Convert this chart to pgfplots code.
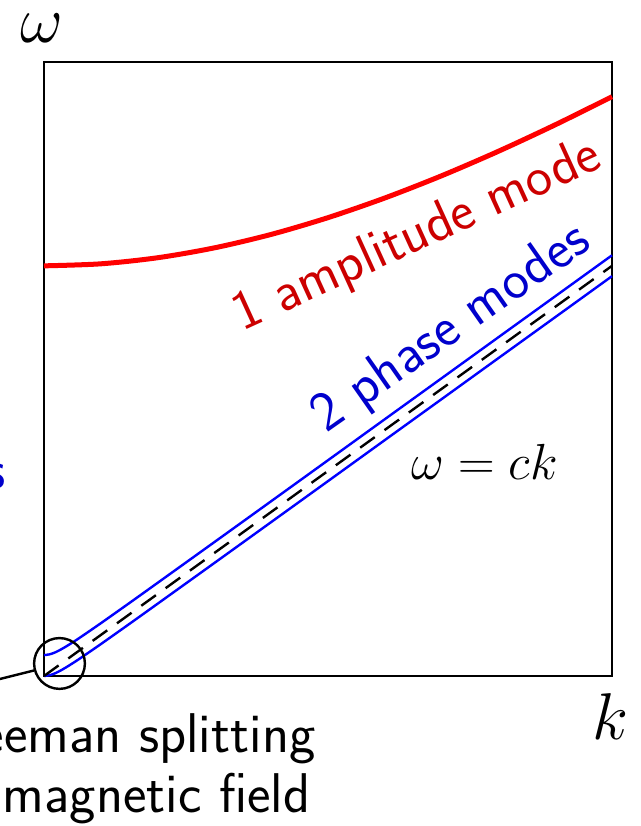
\documentclass[border=0pt]{standalone}
\usepackage{fontspec}
\usepackage{graphicx}
\usepackage{pgfplots}
\pgfplotsset{compat=1.18}
\definecolor{modered}{RGB}{204,0,0}
\definecolor{modeblue}{RGB}{0,0,204}

% amplitude (Higgs) branch
\pgfplotstableread{
k      w
0.0    0.6680
0.1    0.6713
0.2    0.6812
0.3    0.6973
0.4    0.7192
0.5    0.7465
0.6    0.7785
0.7    0.8147
0.8    0.8546
0.9    0.8977
1.0    0.9435
}\amplitude

% Zeeman-split phase branches
\pgfplotstableread{
k      up      lo
0.00   0.0340  0.0000
0.01   0.0353  0.0013
0.02   0.0386  0.0046
0.03   0.0433  0.0093
0.04   0.0487  0.0147
0.05   0.0545  0.0205
0.06   0.0605  0.0265
0.08   0.0731  0.0391
0.10   0.0859  0.0519
0.13   0.1055  0.0715
0.16   0.1252  0.0912
0.20   0.1517  0.1177
0.30   0.2181  0.1841
0.40   0.2847  0.2507
0.50   0.3514  0.3174
0.60   0.4182  0.3842
0.70   0.4849  0.4509
0.80   0.5517  0.5177
0.90   0.6184  0.5844
1.00   0.6852  0.6512
}\phase

\tikzset{lbl/.style={font=\sffamily\fontsize{28}{33}\selectfont}}

\begin{document}
\begin{tikzpicture}
\begin{axis}[
  scale only axis, width=284pt, height=307pt,
  xmin=0, xmax=1, ymin=0, ymax=1,
  xtick=\empty, ytick=\empty,
  axis line style={line width=1pt},
  clip=false,
]
\addplot[red, line width=2.5pt, smooth] table[x=k, y=w] {\amplitude};
\addplot[blue, line width=1.2pt, smooth] table[x=k, y=up] {\phase};
\addplot[blue, line width=1.2pt, smooth] table[x=k, y=lo] {\phase};
\addplot[black, line width=1.2pt, dash pattern=on 9pt off 6pt] coordinates {(0,0) (1,0.668)};

% zoom marker on the origin
\draw[line width=1.2pt] (axis cs:0.0273,0.0204) circle[radius=12.7pt];
\draw[line width=1.2pt] (axis cs:-0.1127,-0.013) -- (axis cs:-0.0176,0.009);

% axis labels
\node at (rel axis cs:-0.0035,1.055) {\Huge\scalebox{1.33}{$\omega$}};
\node at (rel axis cs:0.998,-0.066) {\Huge\scalebox{1.33}{$k$}};

% branch labels
\node[lbl, text=modered, rotate=24.5, anchor=base]
  at (axis cs:0.6681,0.6954) {1 amplitude mode};
\node[lbl, text=modeblue, rotate=35, anchor=base]
  at (axis cs:0.732,0.547) {2 phase modes};
\node at (axis cs:0.7756,0.3485) {\Huge\scalebox{1.02}{$\omega = ck$}};
\node[lbl, text=modeblue, anchor=base east]
  at (axis cs:-0.0555,0.3046) {modes};

% note on the circled region
\node[lbl, anchor=base] at (axis cs:0.155,-0.1254) {Zeeman splitting};
\node[lbl, anchor=base] at (axis cs:0.148,-0.2215) {in magnetic field};
\end{axis}
\pgfresetboundingbox
\path[use as bounding box] (-22pt,-75pt) rectangle (298.5pt,338pt);
\end{tikzpicture}
\end{document}
